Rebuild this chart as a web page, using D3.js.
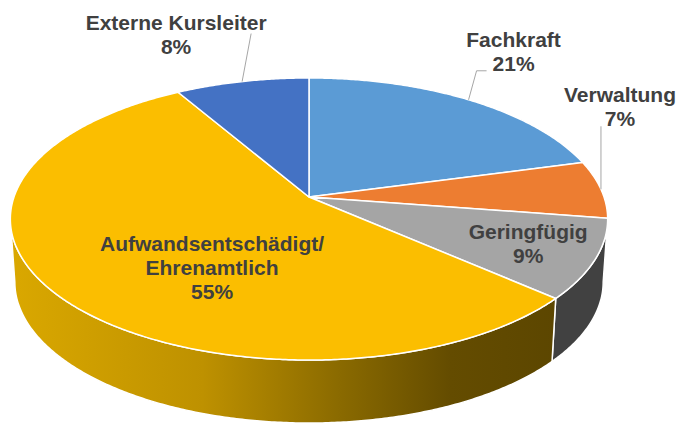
<!DOCTYPE html>
<html>
<head>
<meta charset="utf-8">
<script src="https://cdn.jsdelivr.net/npm/d3@7"></script>
<style>
  body { margin: 0; background: #fff; }
  #chart { width: 680px; height: 425px; }
  .lbl { font-family: Arial, "Liberation Sans", sans-serif; font-weight: bold; font-size: 21px; fill: #404040; }
</style>
</head>
<body>
<div id="chart"></div>
<script>
// data (shares, labels as printed)
const categories = ["Fachkraft", "Verwaltung", "Geringfügig", "Aufwandsentschädigt/Ehrenamtlich", "Externe Kursleiter"];
const labelLines = [["Fachkraft"], ["Verwaltung"], ["Geringfügig"], ["Aufwandsentschädigt/", "Ehrenamtlich"], ["Externe Kursleiter"]];
const shares = [20.8, 6.6, 9.1, 55.1, 8.4];
const pctLabels = ["21%", "7%", "9%", "55%", "8%"];

// styles
const topColors = ["#5B9BD5", "#ED7D31", "#A5A5A5", "#FBBE00", "#4472C4"];
const sideColors = ["#2E5A87", "#9E4F17", "#414141", "url(#goldSide)", "#2A4880"];

// label layout: offset of text centre / first baseline from the rim point of the slice
const labelOffset = [[45, -53], [19, -87], [-67, -20], [156, -43], [-66, -52]];
// leader line points relative to the text position (null = no leader)
const leaders = [[[-37, 24], [-27, 24]], [[-19, 24]], null, null, [[75, 4]]];

const width = 680, height = 425;
const cx = 309, cy = 197, rx = 295, ry = 137.6, persp = 0.156;
const depth = 63, shrink = 0.985;

const svg = d3.select("#chart").append("svg")
    .attr("width", width)
    .attr("height", height);

const defs = svg.append("defs");
const grad = defs.append("linearGradient")
    .attr("id", "goldSide")
    .attr("gradientUnits", "userSpaceOnUse")
    .attr("x1", 10).attr("x2", 560).attr("y1", 0).attr("y2", 0);
[[0, "#DAA800"], [0.35, "#BE9100"], [0.6, "#8A6A00"], [0.8, "#644C00"], [1, "#5C4600"]]
    .forEach(s => grad.append("stop").attr("offset", s[0]).attr("stop-color", s[1]));

// scales for the tilted disk (after the perspective divide)
const xScale = d3.scaleLinear().domain([-1, 1]).range([cx - rx, cx + rx]);
const yScale = d3.scaleLinear().domain([-1, 1]).range([cy - ry, cy + ry]);

function project(theta, r, bottom) {
    const u = r * Math.sin(theta), v = -r * Math.cos(theta);
    const w = 1 - persp * v;
    let x = xScale(u / w), y = yScale(v / w);
    if (bottom) { x = cx + shrink * (x - cx); y = y + depth; }
    return [x, y];
}

const pie = d3.pie().sort(null).value(d => d)(shares);
const line = d3.line();
const step = Math.PI / 360;

function arcPts(a0, a1, r, bottom) {
    const n = Math.max(2, Math.ceil((a1 - a0) / step));
    return d3.range(n + 1).map(i => project(a0 + (a1 - a0) * i / n, r, bottom));
}

// visible side range: between the rightmost and leftmost rim points
const scan = d3.range(0, 2 * Math.PI, step / 4);
const thR = scan[d3.maxIndex(scan, t => project(t, 1, false)[0])];
const thL = scan[d3.minIndex(scan, t => project(t, 1, false)[0])];

// sides
pie.forEach((p, i) => {
    const a0 = Math.max(p.startAngle, thR), a1 = Math.min(p.endAngle, thL);
    if (a1 <= a0) return;
    const topEdge = arcPts(a0, a1, 1, false);
    const botEdge = arcPts(a0, a1, 1, true).reverse();
    svg.append("path")
        .attr("d", line(topEdge.concat(botEdge)) + "Z")
        .attr("fill", sideColors[i])
        .attr("stroke", "#fff")
        .attr("stroke-width", 1.5)
        .attr("stroke-linejoin", "round");
});

// top faces
pie.forEach((p, i) => {
    const pts = [project(0, 0, false)].concat(arcPts(p.startAngle, p.endAngle, 1, false));
    svg.append("path")
        .attr("d", line(pts) + "Z")
        .attr("fill", topColors[i])
        .attr("stroke", "#fff")
        .attr("stroke-width", 1.5)
        .attr("stroke-linejoin", "round");
});

// labels
pie.forEach((p, i) => {
    const mid = (p.startAngle + p.endAngle) / 2;
    const anchor = project(mid, 1, false);
    const tx = anchor[0] + labelOffset[i][0], ty = anchor[1] + labelOffset[i][1];
    if (leaders[i]) {
        const pts = [anchor].concat(leaders[i].map(q => [tx + q[0], ty + q[1]]));
        svg.append("path")
            .attr("d", line(pts))
            .attr("fill", "none")
            .attr("stroke", "#A6A6A6")
            .attr("stroke-width", 1);
    }
    const lines = labelLines[i].concat([pctLabels[i]]);
    const t = svg.append("text").attr("class", "lbl").attr("text-anchor", "middle");
    lines.forEach((s, j) => {
        t.append("tspan").attr("x", tx).attr("y", ty + j * 24).text(s);
    });
});
</script>
</body>
</html>
